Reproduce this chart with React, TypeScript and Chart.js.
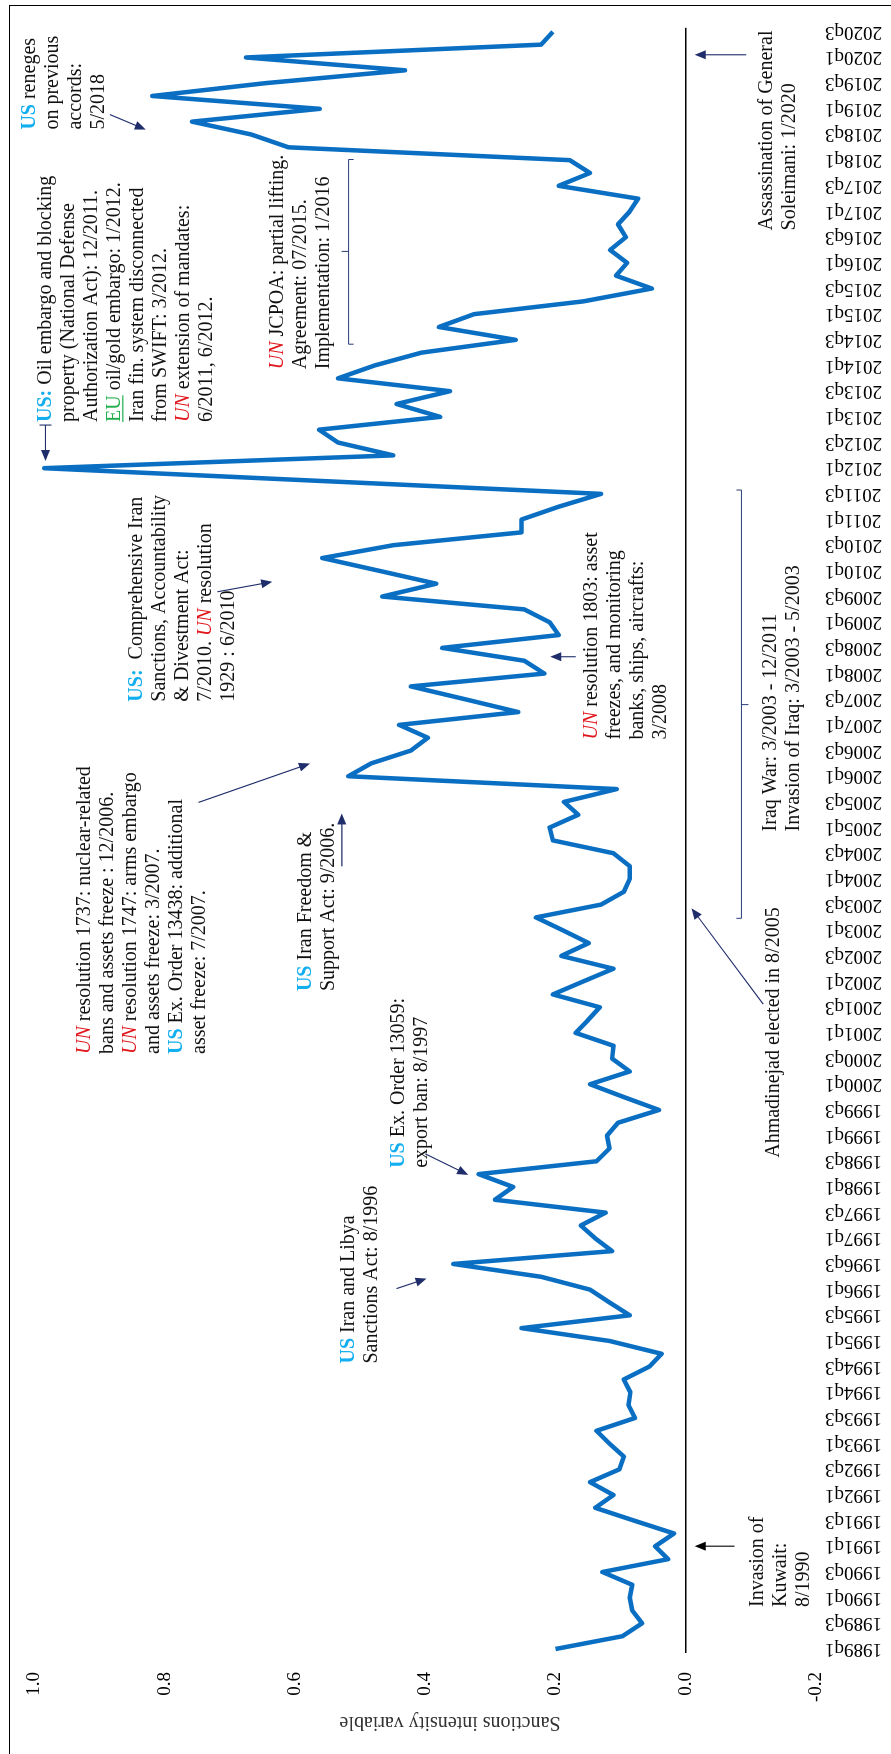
import React, { useEffect, useRef } from 'react';
import { Chart, registerables } from 'chart.js';

Chart.register(...registerables);

// ---------- data ----------
const startYear = 1989;
const quarterCount = 127; // 1989q1 .. 2020q3
const quarters: string[] = [];
for (let i = 0; i < quarterCount; i++) {
  quarters.push(`${startYear + Math.floor(i / 4)}q${(i % 4) + 1}`);
}

const sanctions: number[] = [
  0.200, 0.097, 0.067, 0.082, 0.086, 0.082, 0.128, 0.027, 0.047, 0.018,
  0.079, 0.139, 0.111, 0.147, 0.102, 0.095, 0.117, 0.137, 0.078, 0.088,
  0.085, 0.095, 0.056, 0.037, 0.117, 0.252, 0.086, 0.117, 0.147, 0.222,
  0.357, 0.113, 0.139, 0.161, 0.123, 0.293, 0.265, 0.318, 0.137, 0.117,
  0.121, 0.104, 0.041, 0.095, 0.147, 0.086, 0.113, 0.111, 0.169, 0.150,
  0.132, 0.204, 0.158, 0.111, 0.191, 0.149, 0.189, 0.230, 0.130, 0.095,
  0.086, 0.086, 0.111, 0.204, 0.209, 0.165, 0.187, 0.106, 0.518, 0.483,
  0.422, 0.396, 0.440, 0.257, 0.339, 0.422, 0.217, 0.248, 0.374, 0.195,
  0.209, 0.248, 0.466, 0.383, 0.470, 0.558, 0.449, 0.252, 0.252, 0.195,
  0.130, 0.558, 0.985, 0.449, 0.534, 0.563, 0.377, 0.444, 0.362, 0.534,
  0.478, 0.406, 0.261, 0.379, 0.325, 0.157, 0.052, 0.107, 0.090, 0.116,
  0.092, 0.104, 0.086, 0.073, 0.195, 0.147, 0.178, 0.610, 0.667, 0.758,
  0.562, 0.819, 0.645, 0.431, 0.675, 0.222, 0.204,
];

const yTicks: number[] = [-0.2, 0, 0.2, 0.4, 0.6, 0.8, 1.0];
const yTitle = 'Sanctions intensity variable';

// ---------- annotations (positions in data units: x = quarter index, y = value) ----------
type Seg = { t: string; s?: 'us' | 'un' | 'eu' };
type Note = { x: number; y: number; lines: Seg[][] };

const notes: Note[] = [
  { x: 3.27, y: -0.119, lines: [[{ t: 'Invasion of' }], [{ t: 'Kuwait:' }], [{ t: '8/1990' }]] },
  { x: 22.24, y: 0.51, lines: [[{ t: 'US', s: 'us' }, { t: ' Iran and Libya' }], [{ t: 'Sanctions Act: 8/1996' }]] },
  { x: 37.49, y: 0.432, lines: [[{ t: 'US', s: 'us' }, { t: ' Ex. Order 13059:' }], [{ t: 'export ban: 8/1997' }]] },
  { x: 38.27, y: -0.1435, lines: [[{ t: 'Ahmadinejad elected in 8/2005' }]] },
  {
    x: 46.36, y: 0.9145, lines: [
      [{ t: 'UN', s: 'un' }, { t: ' resolution 1737: nuclear-related' }],
      [{ t: 'bans and assets freeze : 12/2006.' }],
      [{ t: 'UN', s: 'un' }, { t: ' resolution 1747: arms embargo' }],
      [{ t: 'and assets freeze: 3/2007.' }],
      [{ t: 'US', s: 'us' }, { t: ' Ex. Order 13438: additional' }],
      [{ t: 'asset freeze: 7/2007.' }],
    ],
  },
  { x: 51.26, y: 0.5756, lines: [[{ t: 'US', s: 'us' }, { t: ' Iran Freedom &' }], [{ t: 'Support Act: 9/2006.' }]] },
  { x: 63.7, y: -0.139, lines: [[{ t: 'Iraq War: 3/2003 - 12/2011' }], [{ t: 'Invasion of Iraq: 3/2003 - 5/2003' }]] },
  {
    x: 70.86, y: 0.137, lines: [
      [{ t: 'UN', s: 'un' }, { t: ' resolution 1803: asset' }],
      [{ t: 'freezes, and monitoring' }],
      [{ t: 'banks, ships, aircrafts:' }],
      [{ t: '3/2008' }],
    ],
  },
  {
    x: 73.81, y: 0.835, lines: [
      [{ t: 'US:', s: 'us' }, { t: '  Comprehensive Iran' }],
      [{ t: 'Sanctions, Accountability' }],
      [{ t: '& Divestment Act:' }],
      [{ t: '7/2010. ' }, { t: 'UN', s: 'un' }, { t: ' resolution' }],
      [{ t: '1929 : 6/2010' }],
    ],
  },
  {
    x: 95.6, y: 0.974, lines: [
      [{ t: 'US:', s: 'us' }, { t: ' Oil embargo and blocking' }],
      [{ t: 'property (National Defense' }],
      [{ t: 'Authorization Act): 12/2011.' }],
      [{ t: 'EU', s: 'eu' }, { t: ' oil/gold embargo: 1/2012.' }],
      [{ t: 'Iran fin. system disconnected' }],
      [{ t: 'from SWIFT: 3/2012.' }],
      [{ t: 'UN', s: 'un' }, { t: ' extension of mandates:' }],
      [{ t: '6/2011, 6/2012.' }],
    ],
  },
  {
    x: 99.71, y: 0.618, lines: [
      [{ t: 'UN', s: 'un' }, { t: ' JCPOA: partial lifting.' }],
      [{ t: 'Agreement: 07/2015.' }],
      [{ t: 'Implementation: 1/2016' }],
    ],
  },
  { x: 110.52, y: -0.133, lines: [[{ t: 'Assassination of General' }], [{ t: 'Soleimani: 1/2020' }]] },
  {
    x: 118.38, y: 0.9985, lines: [
      [{ t: 'US', s: 'us' }, { t: ' reneges' }],
      [{ t: 'on previous' }],
      [{ t: 'accords:' }],
      [{ t: '5/2018' }],
    ],
  },
];

type Arrow = { from: [number, number]; to: [number, number]; color: string; bar?: boolean };
const arrows: Arrow[] = [
  { from: [8.01, -0.075], to: [8.01, -0.014], color: '#000000' },
  { from: [28.08, 0.444], to: [28.86, 0.398], color: '#1f2d6b' },
  { from: [38.58, 0.4], to: [36.94, 0.334], color: '#1f2d6b' },
  { from: [50.24, -0.119], to: [57.71, -0.009], color: '#1f2d6b' },
  { from: [60.98, 0.528], to: [65.1, 0.528], color: '#1f2d6b' },
  { from: [65.96, 0.748], to: [68.99, 0.577], color: '#1f2d6b' },
  { from: [77.31, 0.169], to: [77.31, 0.208], color: '#1f2d6b' },
  { from: [82.37, 0.719], to: [83.15, 0.635], color: '#1f2d6b' },
  { from: [95.36, 0.983], to: [92.56, 0.983], color: '#1f2d6b', bar: true },
  { from: [119.55, 0.884], to: [118.38, 0.829], color: '#1f2d6b' },
  { from: [124.21, -0.093], to: [124.21, -0.014], color: '#1f2d6b' },
];

type Bracket = { x1: number; x2: number; xm: number; y: number; endsUp: boolean };
const brackets: Bracket[] = [
  { x1: 56.93, x2: 90.3, xm: 73.58, y: -0.0855, endsUp: true },
  { x1: 101.66, x2: 116.05, xm: 108.89, y: 0.5176, endsUp: false },
];

// ---------- drawing helpers ----------
const SERIF = '"Liberation Serif", "Times New Roman", serif';
const NOTE_SIZE = 20;
const LINE_PITCH = 23;

function segFont(s?: string) {
  if (s === 'us') return `bold ${NOTE_SIZE}px ${SERIF}`;
  if (s === 'un') return `italic ${NOTE_SIZE}px ${SERIF}`;
  return `${NOTE_SIZE}px ${SERIF}`;
}
function segColor(s?: string) {
  if (s === 'us') return '#12aeef';
  if (s === 'un') return '#e0161c';
  if (s === 'eu') return '#1fae4b';
  return '#111111';
}

const overlayPlugin = {
  id: 'overlay',
  beforeDatasetsDraw(chart: any) {
    const { ctx, chartArea, scales } = chart;
    const x = scales.x;
    const y = scales.y;
    ctx.save();
    // zero reference line
    const y0 = y.getPixelForValue(0);
    ctx.strokeStyle = '#000';
    ctx.lineWidth = 1.3;
    ctx.beginPath();
    ctx.moveTo(chartArea.left - 4, y0);
    ctx.lineTo(chartArea.right + 4, y0);
    ctx.stroke();

    // brackets
    ctx.strokeStyle = '#2a3b78';
    ctx.lineWidth = 1;
    brackets.forEach((b) => {
      const py = y.getPixelForValue(b.y);
      const a = x.getPixelForValue(b.x1);
      const c = x.getPixelForValue(b.x2);
      const m = x.getPixelForValue(b.xm);
      const endDir = b.endsUp ? -1 : 1;
      ctx.beginPath();
      ctx.moveTo(a, py + endDir * 5);
      ctx.lineTo(a, py);
      ctx.lineTo(c, py);
      ctx.lineTo(c, py + endDir * 5);
      ctx.moveTo(m, py);
      ctx.lineTo(m, py - endDir * 7);
      ctx.stroke();
    });
    ctx.restore();
  },
  afterDatasetsDraw(chart: any) {
    const { ctx, scales } = chart;
    const x = scales.x;
    const y = scales.y;
    ctx.save();

    // y-axis title
    ctx.save();
    ctx.translate(37, 450);
    ctx.rotate(-Math.PI / 2);
    ctx.font = `20px ${SERIF}`;
    ctx.fillStyle = '#333';
    ctx.textAlign = 'center';
    ctx.textBaseline = 'alphabetic';
    ctx.fillText(yTitle, 0, 0);
    ctx.restore();

    // notes
    ctx.textAlign = 'left';
    ctx.textBaseline = 'alphabetic';
    notes.forEach((n) => {
      const px = x.getPixelForValue(n.x);
      const py = y.getPixelForValue(n.y);
      n.lines.forEach((line, li) => {
        let cx = px;
        const by = py + li * LINE_PITCH;
        line.forEach((seg) => {
          ctx.font = segFont(seg.s);
          ctx.fillStyle = segColor(seg.s);
          ctx.fillText(seg.t, cx, by);
          const w = ctx.measureText(seg.t).width;
          if (seg.s === 'eu') {
            ctx.strokeStyle = segColor(seg.s);
            ctx.lineWidth = 1.2;
            ctx.beginPath();
            ctx.moveTo(cx, by + 2.5);
            ctx.lineTo(cx + w, by + 2.5);
            ctx.stroke();
          }
          cx += w;
        });
      });
    });

    // arrows
    arrows.forEach((ar) => {
      const x1 = x.getPixelForValue(ar.from[0]);
      const y1 = y.getPixelForValue(ar.from[1]);
      const x2 = x.getPixelForValue(ar.to[0]);
      const y2 = y.getPixelForValue(ar.to[1]);
      const ang = Math.atan2(y2 - y1, x2 - x1);
      const L = 11;
      const W = 4.5;
      ctx.strokeStyle = ar.color;
      ctx.fillStyle = ar.color;
      ctx.lineWidth = 1.1;
      ctx.beginPath();
      ctx.moveTo(x1, y1);
      ctx.lineTo(x2 - Math.cos(ang) * (L - 1), y2 - Math.sin(ang) * (L - 1));
      ctx.stroke();
      ctx.beginPath();
      ctx.moveTo(x2, y2);
      ctx.lineTo(x2 - Math.cos(ang) * L - Math.sin(ang) * W, y2 - Math.sin(ang) * L + Math.cos(ang) * W);
      ctx.lineTo(x2 - Math.cos(ang) * L + Math.sin(ang) * W, y2 - Math.sin(ang) * L - Math.cos(ang) * W);
      ctx.closePath();
      ctx.fill();
      if (ar.bar) {
        ctx.beginPath();
        ctx.moveTo(x1, y1 - 6);
        ctx.lineTo(x1, y1 + 6);
        ctx.stroke();
      }
    });
    ctx.restore();
  },
};

const W = 1754;
const H = 891;

export default function App() {
  const ref = useRef<HTMLCanvasElement>(null);

  useEffect(() => {
    if (!ref.current) return;
    const chart = new Chart(ref.current, {
      type: 'line',
      data: {
        labels: quarters,
        datasets: [
          {
            data: sanctions,
            borderColor: '#0a6fc2',
            borderWidth: 4.5,
            pointRadius: 0,
            tension: 0,
            fill: false,
            borderJoinStyle: 'round',
            clip: false as any,
          },
        ],
      },
      options: {
        animation: false,
        responsive: false,
        maintainAspectRatio: false,
        layout: { padding: { left: 0, right: 29, top: 30, bottom: 0 } },
        plugins: { legend: { display: false }, tooltip: { enabled: false }, title: { display: false } },
        scales: {
          x: {
            type: 'category',
            offset: false,
            grid: { display: false, drawTicks: false },
            border: { display: false },
            ticks: {
              autoSkip: false,
              minRotation: 90,
              maxRotation: 90,
              padding: 9,
              color: '#000',
              font: { family: SERIF, size: 19 },
              callback: function (this: any, val: any, idx: number) {
                return idx % 2 === 0 ? quarters[idx] : '';
              },
            },
            afterFit: (scale: any) => {
              scale.height = 75;
            },
          },
          y: {
            min: -0.2,
            max: 1.0,
            grid: { display: false, drawTicks: false },
            border: { display: false },
            afterBuildTicks: (scale: any) => {
              scale.ticks = yTicks.map((v) => ({ value: v }));
            },
            ticks: {
              padding: 23,
              color: '#000',
              font: { family: SERIF, size: 19 },
              callback: (v: any) => Number(v).toFixed(1),
            },
            afterFit: (scale: any) => {
              scale.width = 105;
            },
          },
        },
      },
      plugins: [overlayPlugin],
    });
    return () => chart.destroy();
  }, []);

  return (
    <div style={{ position: 'absolute', left: 0, top: 0, width: 891, height: 1754, overflow: 'hidden', background: '#fff' }}>
      <div
        style={{
          position: 'absolute',
          left: 9,
          top: 5,
          width: 1000,
          height: 2000,
          borderLeft: '1.5px solid #000',
          borderTop: '1.5px solid #000',
        }}
      />
      <div
        style={{
          position: 'absolute',
          left: 0,
          top: 0,
          width: W,
          height: H,
          transformOrigin: '0 0',
          transform: `translate(0px, ${W}px) rotate(-90deg)`,
        }}
      >
        <canvas ref={ref} width={W} height={H} style={{ width: W, height: H, display: 'block' }} />
      </div>
    </div>
  );
}
